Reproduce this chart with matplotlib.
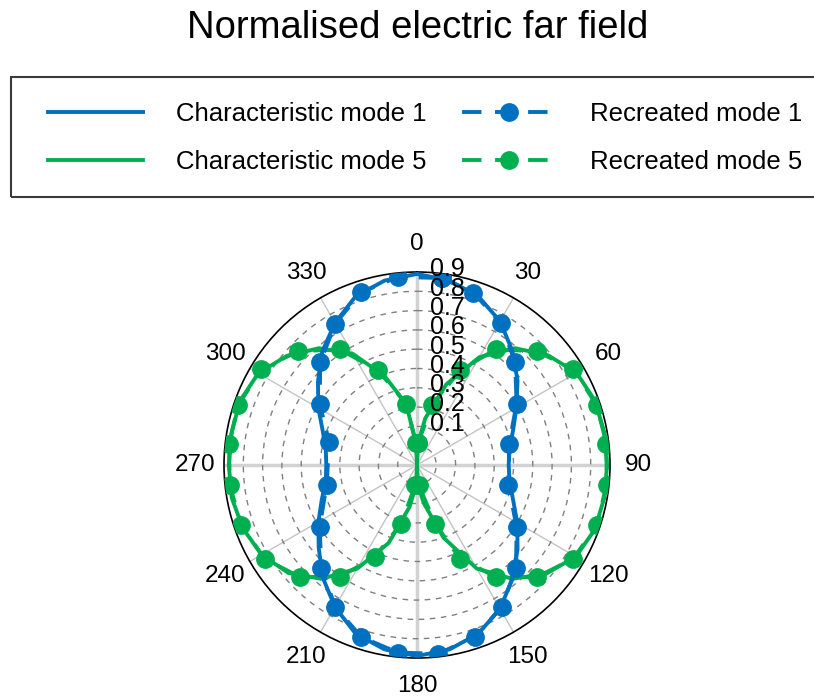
import numpy as np
import matplotlib
matplotlib.use('Agg')
import matplotlib.pyplot as plt
from matplotlib.patches import Rectangle
from matplotlib.transforms import offset_copy

plt.rcParams['font.family'] = ['Liberation Sans', 'DejaVu Sans']

# characteristic mode 1 (blue), read every 10 degrees
char1_deg = list(range(0, 361, 10))
char1_r = [0.99, 0.97, 0.93, 0.86, 0.77, 0.68, 0.595, 0.53, 0.487, 0.475,
           0.487, 0.53, 0.60, 0.68, 0.77, 0.86, 0.93, 0.97, 0.99,
           0.97, 0.93, 0.85, 0.76, 0.665, 0.59, 0.525, 0.48, 0.47,
           0.48, 0.52, 0.59, 0.67, 0.765, 0.85, 0.93, 0.97, 0.99]

# characteristic mode 5 (green)
char5_deg = [0, 3, 10, 20, 30, 40, 50, 60, 70, 80, 90, 100, 110, 120, 130, 140,
             150, 160, 170, 177, 180, 183, 190, 200, 210, 220, 230, 240, 250,
             260, 270, 280, 290, 300, 310, 320, 330, 340, 350, 357, 360]
char5_r = [0.0, 0.115, 0.245, 0.445, 0.645, 0.79, 0.885, 0.955, 0.98, 0.985,
           0.985, 0.985, 0.98, 0.95, 0.875, 0.77, 0.62, 0.40, 0.20, 0.105, 0.0,
           0.105, 0.22, 0.43, 0.62, 0.77, 0.87, 0.93, 0.96, 0.975, 0.975,
           0.975, 0.975, 0.95, 0.88, 0.79, 0.665, 0.49, 0.32, 0.115, 0.0]

# recreated mode 1 samples (markers)
rec1_deg = [7.5, 18.1, 30.5, 43.6, 58.4, 77.0, 102.5, 121.9, 136.1, 149.2,
            161.4, 173.6, 185.8, 197.9, 209.9, 222.9, 237.5, 257.4, 284.6,
            302.2, 316.8, 330.0, 342.0, 354.2]
rec1_r = [0.977, 0.94, 0.854, 0.737, 0.606, 0.49, 0.485, 0.608, 0.74, 0.857,
          0.94, 0.984, 0.977, 0.937, 0.849, 0.728, 0.598, 0.48, 0.47,
          0.596, 0.732, 0.846, 0.94, 0.98]

# recreated mode 5 samples (markers)
rec5_deg = [3, 14, 24.4, 34.3, 46.5, 58.4, 71.6, 83.6, 96, 108.6, 121, 133.1,
            144.8, 155.3, 162.9, 175, 185, 195, 204.7, 214.6, 226.3, 238.4,
            251, 263.8, 276.4, 288.4, 301.6, 313.7, 326.3, 337.6, 350.1, 357]
rec5_r = [0.115, 0.318, 0.539, 0.726, 0.855, 0.951, 0.981, 0.988, 0.988, 0.982,
          0.944, 0.85, 0.71, 0.534, 0.318, 0.105, 0.105, 0.315, 0.525, 0.705,
          0.84, 0.927, 0.962, 0.976, 0.98, 0.977, 0.947, 0.853, 0.72, 0.53,
          0.322, 0.115]

theta_ticks = list(range(0, 360, 30))
r_ticks = [0.1, 0.2, 0.3, 0.4, 0.5, 0.6, 0.7, 0.8, 0.9]

blue = '#0070C0'
green = '#00B050'

fig = plt.figure(figsize=(8.14, 6.98), dpi=100)
ax = fig.add_axes([224 / 814, 1 - 658 / 698, 386 / 814, 386 / 698], projection='polar')
ax.set_theta_zero_location('N')
ax.set_theta_direction(-1)


def closed(deg, r):
    return np.deg2rad(np.r_[deg, deg[:1]]), np.r_[r, r[:1]]


c1, = ax.plot(np.deg2rad(char1_deg), char1_r, color=blue, lw=2.8, zorder=4,
              label='Characteristic mode 1')
c5, = ax.plot(np.deg2rad(char5_deg), char5_r, color=green, lw=2.8, zorder=3,
              label='Characteristic mode 5')
t, r = closed(rec1_deg, rec1_r)
r1, = ax.plot(t, r, color=blue, lw=2.8, ls=(0, (5, 3.5)), marker='o', ms=12.5,
              zorder=4.5, label='Recreated mode 1')
t, r = closed(rec5_deg, rec5_r)
r5, = ax.plot(t, r, color=green, lw=2.8, ls=(0, (5, 3.5)), marker='o', ms=12.5,
              zorder=3.5, label='Recreated mode 5')

ax.set_ylim(0, 1)
ax.set_yticks(r_ticks)
ax.set_yticklabels([])
ax.set_thetagrids(theta_ticks, [str(v) for v in theta_ticks], fontsize=17.5)
ax.tick_params(axis='x', pad=10)
ax.xaxis.grid(True, color='#c4c4c4', lw=1, ls='-')
ax.yaxis.grid(True, color='#808080', lw=1, ls=(0, (4, 4)))
for i, gl in enumerate(ax.xaxis.get_gridlines()):
    if i % 3 == 0:
        gl.set_linewidth(2.5)
        gl.set_color('#d2d2d2')
ax.spines['polar'].set_color('black')
ax.spines['polar'].set_linewidth(1.2)

# radial labels stacked next to the 0 degree line
lab_tr = offset_copy(ax.transData, fig=fig, x=13, y=22, units='dots')
for v in r_ticks:
    ax.text(0, v, f'{v:g}', transform=lab_tr, ha='left', va='center',
            fontsize=18, color='black', zorder=10)

fig.text(418 / 814, 1 - 28 / 698, 'Normalised electric far field', ha='center',
         va='center', fontsize=27.5)

fig.add_artist(Rectangle((11 / 814, 1 - 197 / 698), 830 / 814, 120 / 698,
                         transform=fig.transFigure, fill=False,
                         edgecolor='#3a3a3a', lw=1.5))
fig.legend([c1, c5, r1, r5],
           ['Characteristic mode 1', 'Characteristic mode 5',
            'Recreated mode 1', 'Recreated mode 5'],
           ncol=2, loc='upper left', bbox_to_anchor=(48 / 814, 1 - 102 / 698),
           frameon=False, fontsize=18.5, borderpad=0, borderaxespad=0,
           handlelength=3.7, handletextpad=1.3, columnspacing=1.35,
           labelspacing=0.95)

fig.savefig('out.png', dpi=100)
